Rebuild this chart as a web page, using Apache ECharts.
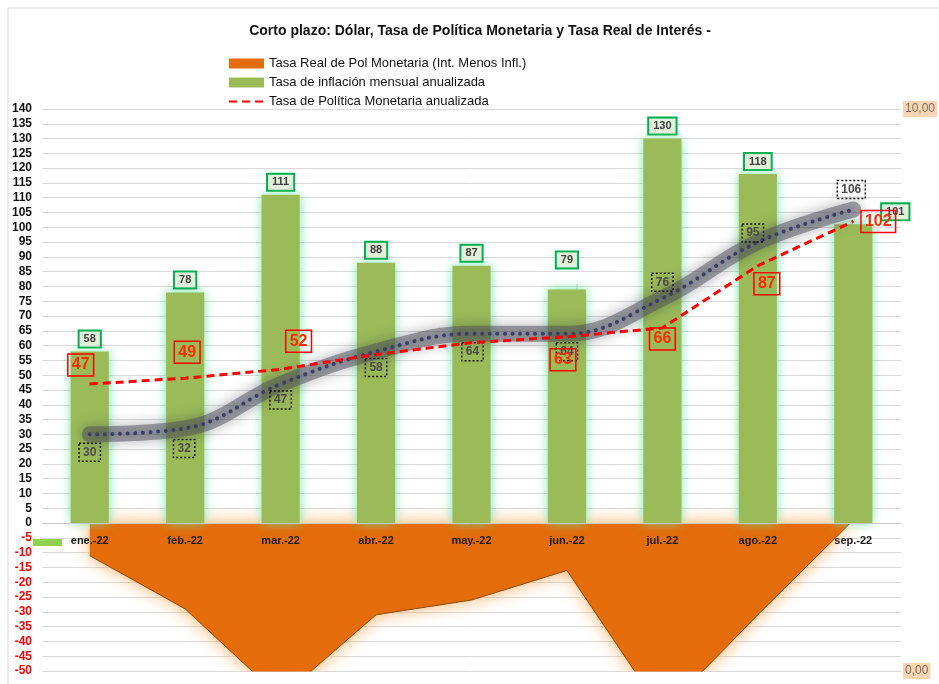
<!DOCTYPE html>
<html>
<head>
<meta charset="utf-8">
<script src="https://cdn.jsdelivr.net/npm/echarts@6/dist/echarts.min.js"></script>
<style>
html,body{margin:0;padding:0;background:#fff;}
#chart{width:939px;height:684px;}
</style>
</head>
<body>
<div id="chart"></div>
<script>
// ---- data ----
const categories = ['ene.-22','feb.-22','mar.-22','abr.-22','may.-22','jun.-22','jul.-22','ago.-22','sep.-22'];
const inflacion = [58, 78, 111, 88, 87, 79, 130, 118, 101];
const tasaPolitica = [47, 49, 52, 57, 61, 63, 66, 87, 102];
const dolar = [30, 32, 47, 58, 64, 64, 76, 95, 106];
const tasaReal = [-11, -29, -59, -31, -26, -16, -64, -31, 1];
const leftAxisRange = [-50, 140, 5];
const rightAxisRange = [0, 10, 10];
const seriesNames = ['Tasa Real de Pol Monetaria (Int. Menos Infl.)', 'Tasa de inflación mensual anualizada', 'Tasa de Política Monetaria anualizada'];
const titleText = 'Corto plazo: Dólar, Tasa de Política Monetaria y Tasa Real de Interés -';

// ---- label styling (offsets) ----
const greenLabelOffset = [[0,0],[0,0],[0,0],[0,0],[0,0],[0,-17],[0,0],[0,0],[42,0]];
const redLabelShow = [true,true,true,false,false,true,true,true,true];
const redLabelOffset = [[-9,-19],[2,-26],[18,-28],[0,0],[0,0],[-4,23],[0,11],[9,18],[25,0]];
const grayLabelOffset = [[0,18],[-1,20],[0,16],[0,16],[1,18],[0,18],[0,-16],[-5,-9],[-2,-20]];

const FONT = '"Liberation Sans", Arial, sans-serif';
const GRID_TOP = 109, GRID_BOTTOM = 13, H = 684;
// vertical offset that puts the category axis on the value-axis zero line
const zeroShift = -((H - GRID_TOP - GRID_BOTTOM) * (0 - leftAxisRange[0]) / (leftAxisRange[1] - leftAxisRange[0]));

const chart = echarts.init(document.getElementById('chart'), null, {renderer: 'canvas'});

const option = {
  animation: false,
  backgroundColor: '#ffffff',
  title: {
    text: titleText,
    left: 475,
    top: 19,
    textAlign: 'center',
    textStyle: {fontFamily: FONT, fontSize: 14, fontWeight: 'bold', color: '#111'}
  },
  legend: {
    orient: 'vertical',
    left: 223,
    top: 52,
    itemWidth: 35,
    itemHeight: 10,
    itemGap: 6,
    textStyle: {fontFamily: FONT, fontSize: 13, color: '#111'},
    data: [
      {name: seriesNames[0], icon: 'rect'},
      {name: seriesNames[1], icon: 'rect'},
      {name: seriesNames[2], itemStyle: {opacity: 0}}
    ]
  },
  graphic: [
    {type: 'rect', shape: {x: 8, y: 8, width: 960, height: 700}, style: {fill: 'none', stroke: '#d9d9d9', lineWidth: 1}, z: -10},
    {type: 'rect', shape: {x: 33, y: 539, width: 29, height: 7}, style: {fill: '#92d050'}}
  ],
  grid: {left: 42, right: 38, top: GRID_TOP, bottom: GRID_BOTTOM, containLabel: false, outerBoundsMode: 'none'},
  xAxis: {
    type: 'category',
    data: categories,
    boundaryGap: true,
    position: 'bottom',
    offset: zeroShift,
    axisLine: {show: true, onZero: false, lineStyle: {color: '#c8c8c8'}},
    axisTick: {show: false},
    axisLabel: {fontFamily: FONT, fontSize: 11, fontWeight: 'bold', color: '#1a1a1a', margin: 12},
    splitLine: {show: false},
    z: 10
  },
  yAxis: [
    {
      type: 'value',
      min: leftAxisRange[0], max: leftAxisRange[1], interval: leftAxisRange[2],
      axisLine: {show: false}, axisTick: {show: false},
      axisLabel: {
        fontFamily: FONT, fontSize: 12, fontWeight: 'bold', margin: 10,
        color: function (v) { return v < 0 ? '#ff0000' : '#111'; }
      },
      splitLine: {lineStyle: {color: '#d9d9d9', width: 1}}
    },
    {
      type: 'value',
      position: 'right',
      min: rightAxisRange[0], max: rightAxisRange[1], interval: rightAxisRange[2],
      axisLine: {show: false}, axisTick: {show: false}, splitLine: {show: false},
      axisLabel: {
        fontFamily: FONT, fontSize: 12, margin: 2, color: '#7f6f60',
        backgroundColor: '#fbd4b4', padding: [2, 2],
        formatter: function (v) { return v.toFixed(2).replace('.', ','); }
      }
    }
  ],
  series: [
    {
      name: seriesNames[0],
      type: 'line',
      data: tasaReal,
      symbol: 'none',
      z: 1,
      lineStyle: {color: '#8b4a10', width: 1},
      itemStyle: {color: '#e46c0a'},
      areaStyle: {color: '#e46c0a', opacity: 1, origin: 0, shadowBlur: 18, shadowColor: 'rgba(250,170,90,0.95)'}
    },
    {
      name: seriesNames[1],
      type: 'bar',
      data: inflacion.map((v, i) => ({
        value: v,
        label: {offset: greenLabelOffset[i]},
        labelLine: {show: i === 5}
      })),
      barWidth: '40%',
      z: 2,
      itemStyle: {color: '#9bbb59', shadowBlur: 10, shadowColor: 'rgba(110,230,170,0.95)'},
      label: {
        show: true, position: 'top', distance: 5,
        fontFamily: FONT, fontSize: 11, fontWeight: 'bold', color: '#404040',
        backgroundColor: '#e2efda', borderColor: '#00b050', borderWidth: 2,
        padding: [2, 4]
      },
      labelLine: {lineStyle: {color: '#bfbfbf', width: 1}}
    },
    {
      name: 'dolar_glow',
      type: 'line',
      data: dolar,
      smooth: 0.4,
      symbol: 'none',
      silent: true,
      z: 3,
      lineStyle: {color: 'rgba(80,80,92,0.5)', width: 16, shadowBlur: 14, shadowColor: 'rgba(40,40,50,0.7)', cap: 'round'}
    },
    {
      name: 'dolar',
      type: 'line',
      data: dolar.map((v, i) => ({value: v, label: {offset: grayLabelOffset[i]}})),
      smooth: 0.4,
      symbol: 'circle',
      symbolSize: 1,
      z: 4,
      itemStyle: {color: 'rgba(0,0,0,0)'},
      lineStyle: {color: '#3d3d6e', width: 4, type: [0.1, 7.5], cap: 'round'},
      label: {
        show: true, position: 'inside',
        fontFamily: FONT, fontSize: 12, fontWeight: 'bold', color: '#4a4a4a',
        borderColor: '#111', borderWidth: 1.5, borderType: [2, 2],
        padding: [3, 4]
      }
    },
    {
      name: seriesNames[2],
      type: 'line',
      data: tasaPolitica.map((v, i) => ({value: v, label: {show: redLabelShow[i], offset: redLabelOffset[i]}})),
      symbol: 'circle',
      symbolSize: 1,
      z: 5,
      itemStyle: {color: '#ff0000'},
      lineStyle: {color: '#ff0000', width: 3, type: [8, 5]},
      label: {
        show: true, position: 'inside',
        fontFamily: FONT, fontSize: 16, fontWeight: 'bold', color: '#ff2a00',
        borderColor: '#ff0000', borderWidth: 1.5,
        padding: [3, 4]
      }
    }
  ]
};
chart.setOption(option);
</script>
</body>
</html>
